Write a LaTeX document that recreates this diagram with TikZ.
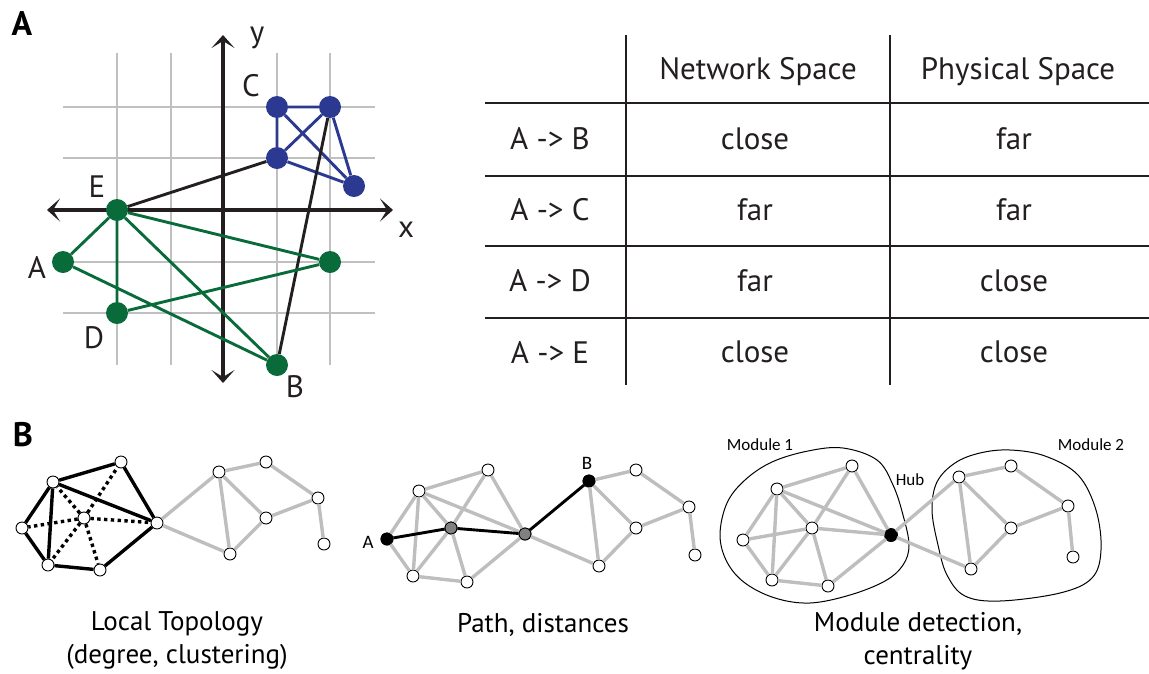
\documentclass[tikz,border=0pt]{standalone}
\usepackage{fontspec}
\setmainfont{PT Sans}
\newfontfamily\calfont{Carlito}
\usetikzlibrary{arrows.meta}
\definecolor{netgreen}{RGB}{10,107,58}
\definecolor{netblue}{RGB}{43,57,144}
\definecolor{gridgray}{RGB}{192,192,192}
\definecolor{edgegray}{RGB}{190,190,190}
\definecolor{ink}{RGB}{35,31,32}

\begin{document}
\begin{tikzpicture}[x=1pt,y=-1pt,>={Stealth[length=13pt,width=23pt,inset=7pt]},
  grd/.style={line width=2.5pt,gridgray},
  axln/.style={line width=3.2pt,ink},
  ptA/.style={circle,inner sep=0pt,minimum size=22pt},
  glink/.style={line width=2.9pt,netgreen},
  blink/.style={line width=2.9pt,netblue},
  klink/.style={line width=2.9pt,ink},
  tline/.style={line width=2.2pt,ink},
  tbl/.style={font=\fontsize{31}{36}\selectfont,text=ink},
  panlbl/.style={font=\bfseries\fontsize{34}{40}\selectfont},
  capt/.style={font=\fontsize{27}{33}\selectfont,align=center},
  modlbl/.style={font=\calfont\fontsize{17}{20}\selectfont},
  vtx/.style={circle,draw,fill=white,inner sep=0pt,minimum size=12pt,line width=0.9pt},
  gry/.style={line width=3.4pt,edgegray},
  blk/.style={line width=3.4pt},
  dotedge/.style={line width=3.4pt,dash pattern=on 3.4pt off 3.4pt}]
\useasboundingbox (0,0) rectangle (1149,673);
% ================ A: physical space ================
\node[panlbl] (panA) at (22,24) {A};
\foreach \g in {117,171,223,277,330}{\draw[grd] (\g,53) -- (\g,365);}
\foreach \g in {107,158,210,262,313}{\draw[grd] (63,\g) -- (375,\g);}
\coordinate (xl) at (47,210);
\coordinate (xr) at (393,210);
\coordinate (yt) at (223,35);
\coordinate (yb) at (223,383);
\draw[axln,<->] (xl) -- (xr);
\draw[axln,<->] (yt) -- (yb);
\node[tbl] (labx) at (406,230) {x};
\node[tbl] (laby) at (257,38) {y};
% cluster C (blue)
\node[ptA,fill=netblue] (C1) at (277,107) {};
\node[ptA,fill=netblue] (C2) at (330,107) {};
\node[ptA,fill=netblue] (C3) at (277,158) {};
\node[ptA,fill=netblue] (C4) at (354,186) {};
% green nodes
\node[ptA,fill=netgreen] (E) at (117,210) {};
\node[ptA,fill=netgreen] (A) at (63,262) {};
\node[ptA,fill=netgreen] (D) at (117,313) {};
\node[ptA,fill=netgreen] (B) at (277,365) {};
\node[ptA,fill=netgreen] (G) at (330,262) {};
\draw[blink] (C1) -- (C2) (C1) -- (C3) (C1) -- (C4)
  (C2) -- (C3) (C2) -- (C4) (C3) -- (C4);
\draw[klink] (E) -- (C3) (C2) -- (B);
\draw[glink] (E) -- (A) (E) -- (D) (E) -- (B) (E) -- (G)
  (A) -- (B) (D) -- (G);
\node[tbl] (labC) at (251,86) {C};
\node[tbl] (labE) at (97,187) {E};
\node[tbl] (labA) at (37,267) {A};
\node[tbl] (labD) at (94,338) {D};
\node[tbl] (labB) at (295,387) {B};
% ================ A: table ================
\foreach \r in {103,176,246,318}{\draw[tline] (485,\r) -- (1149,\r);}
\foreach \c in {626,890}{\draw[tline] (\c,35) -- (\c,385);}
\node[tbl] (hnet) at (758,72) {Network Space};
\node[tbl] (hphy) at (1018,72) {Physical Space};
\foreach \y/\p/\n/\q [count=\i] in {139/B/close/far,210/C/far/far,281/D/far/close,352/E/close/close}{
  \node[tbl] (row\i) at (550,\y) {A -> \p};
  \node[tbl] (net\i) at (755,\y) {\n};
  \node[tbl] (phy\i) at (1014,\y) {\q};
}
% ================ B: local topology ================
\node[panlbl] (panB) at (23,435) {B};
\foreach \n/\x/\y in {1/22/528,2/53/482,3/121/462,4/84/518,5/157/523,6/48/565,7/100/570,
  8/219/472,9/266/462,10/318/498,11/266/518,12/230/554,13/324/544}
  \node[vtx] (L\n) at (\x,\y) {};
\foreach \u/\v in {5/8,5/12,8/9,8/12,8/11,9/10,11/10,11/12,10/13}
  \draw[gry] (L\u) -- (L\v);
\foreach \v in {1,2,3,5,6,7}
  \draw[dotedge] (L4) -- (L\v);
\foreach \u/\v in {1/2,2/3,3/5,5/7,7/6,6/1,2/6,2/5}
  \draw[blk] (L\u) -- (L\v);
\node[capt] (capL) at (177,641) {Local Topology\\(degree, clustering)};
% ================ B: path ================
\foreach \n/\x/\y in {1/387/539,2/419/491,3/488/470,4/451/528,5/525/534,6/413/576,7/467/582,
  8/589/481,9/636/470,10/689/507,11/636/528,12/599/566,13/695/555}
  \node[vtx] (P\n) at (\x,\y) {};
\node[vtx,fill=black] at (P1) {};
\node[vtx,fill=black] at (P8) {};
\node[vtx,fill=gray] at (P4) {};
\node[vtx,fill=gray] at (P5) {};
\foreach \u/\v in {1/2,2/3,3/5,5/7,7/6,6/1,2/6,2/5,4/2,4/3,4/6,4/7,
  5/12,8/9,8/12,8/11,9/10,11/10,11/12,10/13}
  \draw[gry] (P\u) -- (P\v);
\draw[line width=2.9pt] (P1) -- (P4) (P4) -- (P5) (P5) -- (P8);
\node[modlbl,font=\calfont\fontsize{19}{22}\selectfont] (labPA) at (368,542) {A};
\node[modlbl,font=\calfont\fontsize{19}{22}\selectfont] (labPB) at (587,463) {B};
\node[capt] (capP) at (543,625) {Path, distances};
% ================ B: modules ================
\draw[line width=1pt] plot[smooth cycle,tension=0.6] coordinates {(843,448) (877,460) (893,485)
  (903,515) (909,545) (903,565) (885,581) (850,595) (810,603) (775,598) (745,583) (727,562)
  (720,535) (727,503) (745,480) (772,462) (808,451)};
\draw[line width=1pt] plot[smooth cycle,tension=0.6] coordinates {(1010,450) (1045,456)
  (1078,475) (1096,510) (1101,550) (1092,578) (1060,593) (1000,601) (965,596) (947,575)
  (938,545) (932,510) (937,482) (955,463) (980,453)};
\foreach \n/\x/\y in {1/743/540,2/777/489,3/852/466,4/812/528,5/891/535,6/772/580,7/828/586,
  8/959/477,9/1011/466,10/1068/506,11/1011/528,12/971/569,13/1073/557}
  \node[vtx] (M\n) at (\x,\y) {};
\node[vtx,fill=black,minimum size=13pt] at (M5) {};
\foreach \u/\v in {1/2,2/3,3/5,5/7,7/6,6/1,2/6,2/5,4/1,4/2,4/3,4/5,4/6,4/7,
  5/8,5/12,8/9,8/12,8/11,9/10,11/10,11/12,10/13}
  \draw[gry] (M\u) -- (M\v);
\node[modlbl] (labM1) at (760,445) {Module 1};
\node[modlbl] (labHub) at (910,480) {Hub};
\node[modlbl] (labM2) at (1091,445) {Module 2};
\node[capt] (capM) at (918,641) {Module detection,\\centrality};
\end{tikzpicture}
\end{document}
